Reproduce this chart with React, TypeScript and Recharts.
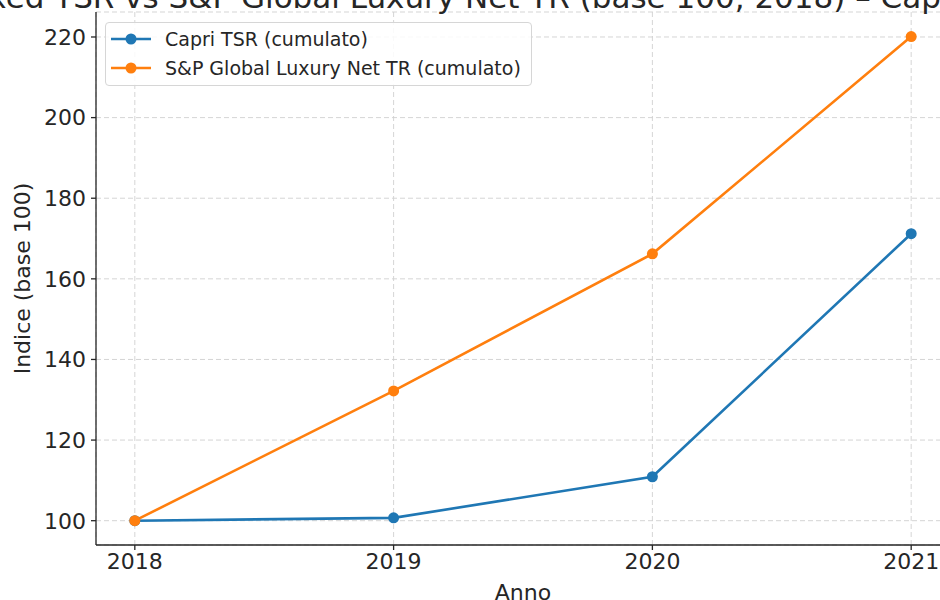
import React from "react";
import { LineChart, Line, XAxis, YAxis, CartesianGrid, Label } from "recharts";

const years = [2018, 2019, 2020, 2021];
const capriTSR = [100, 100.7, 110.9, 171.2];
const spLuxury = [100, 132.2, 166.2, 220.1];
const yTicks = [100, 120, 140, 160, 180, 200, 220];

const seriesNames = {
  capri: "Capri TSR (cumulato)",
  sp: "S&P Global Luxury Net TR (cumulato)",
};
const title = "Indexed TSR vs S&P Global Luxury Net TR (base 100, 2018) – Capri Holdings";

const data = years.map((y, i) => ({ year: y, capri: capriTSR[i], sp: spLuxury[i] }));

const BLUE = "#1f77b4";
const ORANGE = "#ff7f0e";
const FONT = "DejaVu Sans";
const TXT = "#262626";

const LegendBox = () => {
  const items = [
    { name: seriesNames.capri, color: BLUE },
    { name: seriesNames.sp, color: ORANGE },
  ];
  return (
    <div
      style={{
        position: "absolute",
        left: 105,
        top: 22,
        width: 427,
        height: 64,
        boxSizing: "border-box",
        border: "1px solid #d6d6d6",
        borderRadius: 4,
        background: "rgba(255,255,255,0.85)",
        fontFamily: FONT,
        fontSize: 19,
        color: TXT,
        zIndex: 3,
      }}
    >
      {items.map((it, i) => (
        <div key={it.name} style={{ position: "absolute", left: 0, top: 3 + i * 29, height: 26, display: "flex", alignItems: "center" }}>
          <svg width={58} height={26} style={{ display: "block" }}>
            <line x1={5} x2={45} y1={13} y2={13} stroke={it.color} strokeWidth={2.6} />
            <circle cx={25} cy={13} r={5.5} fill={it.color} />
          </svg>
          <span style={{ whiteSpace: "nowrap", marginLeft: 1 }}>{it.name}</span>
        </div>
      ))}
    </div>
  );
};

export default function App() {
  return (
    <div style={{ position: "fixed", left: 0, top: 0, width: 940, height: 600, overflow: "hidden", background: "#fff" }}>
      <LineChart
        width={960}
        height={600}
        data={data}
        margin={{ top: 12, right: 10, bottom: 0, left: 0 }}
        style={{ position: "absolute", left: 0, top: 0 }}
      >
        <CartesianGrid stroke="#d0d0d0" strokeDasharray="5 3" strokeWidth={0.9} />
        <XAxis
          dataKey="year"
          type="number"
          domain={[2017.85, 2021.15]}
          ticks={years}
          allowDataOverflow
          height={55}
          tickSize={5}
          tickMargin={3}
          stroke="#262626"
          strokeWidth={1.3}
          tick={{ fontFamily: FONT, fontSize: 22, fill: TXT }}
        >
          <Label value="Anno" position="insideBottom" offset={0} style={{ fontFamily: FONT, fontSize: 22, fill: TXT }} />
        </XAxis>
        <YAxis
          type="number"
          domain={[93.97, 226.2]}
          ticks={yTicks}
          allowDataOverflow
          width={96}
          tickSize={5}
          tickMargin={5}
          stroke="#262626"
          strokeWidth={1.3}
          tick={{ fontFamily: FONT, fontSize: 22, fill: TXT }}
        >
          <Label
            value="Indice (base 100)"
            angle={-90}
            position="insideLeft"
            offset={22}
            style={{ fontFamily: FONT, fontSize: 22, fill: TXT, textAnchor: "middle" }}
          />
        </YAxis>
        <Line
          type="linear"
          dataKey="capri"
          name={seriesNames.capri}
          stroke={BLUE}
          strokeWidth={2.6}
          dot={{ r: 5.5, fill: BLUE, stroke: BLUE, strokeWidth: 0 }}
          activeDot={false}
          isAnimationActive={false}
        />
        <Line
          type="linear"
          dataKey="sp"
          name={seriesNames.sp}
          stroke={ORANGE}
          strokeWidth={2.6}
          dot={{ r: 5.5, fill: ORANGE, stroke: ORANGE, strokeWidth: 0 }}
          activeDot={false}
          isAnimationActive={false}
        />
      </LineChart>
      <svg width={940} height={30} style={{ position: "absolute", left: 0, top: 0, zIndex: 2 }}>
        <text x={514} y={8} textAnchor="middle" fontFamily={FONT} fontSize={31} fill={TXT}>
          {title}
        </text>
      </svg>
      <LegendBox />
    </div>
  );
}
